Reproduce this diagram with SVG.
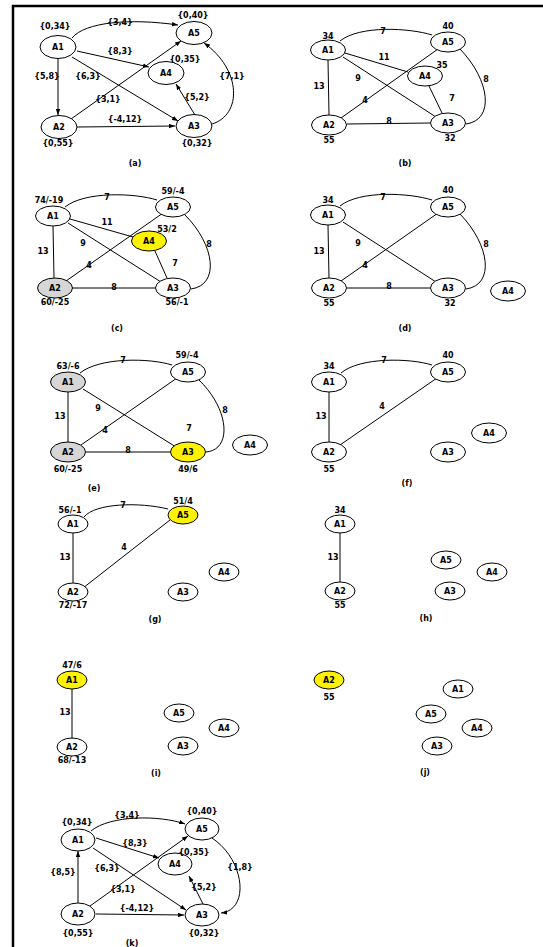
<svg xmlns="http://www.w3.org/2000/svg" width="543" height="947" viewBox="0 0 543 947">
<style>
.n ellipse{fill:#fff;stroke:#000;stroke-width:1}
.n.g ellipse{fill:#d6d6d6}
.n.y ellipse{fill:#fff200}
text{font-family:"DejaVu Sans","Liberation Sans",sans-serif;font-weight:bold;font-size:8px;text-anchor:middle;fill:#000}
.e path{fill:none;stroke:#000;stroke-width:1}
.e .a{marker-end:url(#arr)}
</style>
<defs>
<marker id="arr" viewBox="0 0 8 6" refX="8" refY="3" markerWidth="6" markerHeight="5" orient="auto" markerUnits="userSpaceOnUse">
<path d="M0,0 L8,3 L0,6 Z" fill="#000"/>
</marker>
</defs>
<rect width="543" height="947" fill="#fff"/>
<g id="frame" stroke="#000" stroke-width="2.5" fill="none">
<path d="M13,947 L13,6 L543,6"/>
</g>

<!-- Panel (a) -->
<g id="connectors-a" class="e">
<path class="a" d="M72,38 C85,22 130,18 178,25"/>
<path class="a" d="M77,51 L149,67"/>
<path class="a" d="M58,59 L58,115"/>
<path class="a" d="M72,57 L178,121"/>
<path class="a" d="M71,119 L181,41"/>
<path class="a" d="M77,127 L175,126"/>
<path class="a" d="M195,115 L176,84"/>
<path class="a" d="M212,124 C242,115 242,70 204,43"/>
</g>
<g id="a-labels">
<text x="120" y="25">{3,4}</text>
<text x="120" y="54">{8,3}</text>
<text x="47" y="79">{5,8}</text>
<text x="88" y="79">{6,3}</text>
<text x="108" y="102">{3,1}</text>
<text x="197" y="100">{5,2}</text>
<text x="232" y="79">{7,1}</text>
<text x="125" y="122">{-4,12}</text>
<text x="135" y="166">(a)</text>
</g>
<g id="a-A1" class="n"><ellipse cx="58" cy="47" rx="18" ry="11.5"/><text x="58" y="50">A1</text><text x="55" y="29">{0,34}</text></g>
<g id="a-A5" class="n"><ellipse cx="194" cy="33" rx="18" ry="11.5"/><text x="194" y="36">A5</text><text x="193" y="18">{0,40}</text></g>
<g id="a-A4" class="n"><ellipse cx="166" cy="73" rx="18" ry="11.5"/><text x="166" y="76">A4</text><text x="185" y="62">{0,35}</text></g>
<g id="a-A2" class="n"><ellipse cx="59" cy="127" rx="18" ry="11.5"/><text x="59" y="130">A2</text><text x="58" y="146">{0,55}</text></g>
<g id="a-A3" class="n"><ellipse cx="194" cy="126" rx="18" ry="11.5"/><text x="194" y="129">A3</text><text x="197" y="146">{0,32}</text></g>

<!-- Panel (b) -->
<g id="connectors-b" class="e">
<path d="M340,41 C360,25 410,28 432,35"/>
<path d="M345,53 L408,72"/>
<path d="M328,60 L329,115"/>
<path d="M343,57 L436,117"/>
<path d="M341,118 L438,49"/>
<path d="M347,124 L430,123"/>
<path d="M429,86 L442,113"/>
<path d="M460,49 C490,80 495,120 466,124"/>
</g>
<g id="b-labels">
<text x="383" y="34">7</text>
<text x="384" y="60">11</text>
<text x="319" y="89">13</text>
<text x="358" y="81">9</text>
<text x="365" y="103">4</text>
<text x="389" y="124">8</text>
<text x="452" y="101">7</text>
<text x="486" y="82">8</text>
<text x="405" y="166">(b)</text>
</g>
<g id="b-A1" class="n"><ellipse cx="328" cy="50" rx="17.5" ry="10"/><text x="328" y="53">A1</text><text x="328" y="39">34</text></g>
<g id="b-A5" class="n"><ellipse cx="448" cy="42" rx="17.5" ry="10"/><text x="448" y="45">A5</text><text x="448" y="29">40</text></g>
<g id="b-A4" class="n"><ellipse cx="425" cy="76" rx="17.5" ry="10"/><text x="425" y="79">A4</text><text x="442" y="68">35</text></g>
<g id="b-A2" class="n"><ellipse cx="329" cy="125" rx="17.5" ry="10"/><text x="329" y="128">A2</text><text x="329" y="143">55</text></g>
<g id="b-A3" class="n"><ellipse cx="448" cy="123" rx="17.5" ry="10"/><text x="448" y="126">A3</text><text x="450" y="141">32</text></g>

<!-- Panel (c) -->
<g id="connectors-c" class="e">
<path d="M65,207 C85,191 135,193 157,200"/>
<path d="M70,219 L133,237"/>
<path d="M53,226 L54,278"/>
<path d="M68,223 L161,282"/>
<path d="M66,281 L163,213"/>
<path d="M72,288 L155,288"/>
<path d="M155,251 L167,278"/>
<path d="M185,215 C215,245 220,285 191,289"/>
</g>
<g id="c-labels">
<text x="107" y="200">7</text>
<text x="107" y="225">11</text>
<text x="43" y="254">13</text>
<text x="83" y="246">9</text>
<text x="89" y="268">4</text>
<text x="114" y="290">8</text>
<text x="175" y="266">7</text>
<text x="209" y="247">8</text>
<text x="117" y="331">(c)</text>
</g>
<g id="c-A1" class="n"><ellipse cx="53" cy="216" rx="17.5" ry="10"/><text x="53" y="219">A1</text><text x="49" y="203">74/-19</text></g>
<g id="c-A5" class="n"><ellipse cx="173" cy="207" rx="17.5" ry="10"/><text x="173" y="210">A5</text><text x="173" y="194">59/-4</text></g>
<g id="c-A4" class="n y"><ellipse cx="149" cy="241" rx="17.5" ry="10"/><text x="149" y="244">A4</text><text x="167" y="232">53/2</text></g>
<g id="c-A2" class="n g"><ellipse cx="55" cy="288" rx="17.5" ry="10"/><text x="55" y="291">A2</text><text x="55" y="305">60/-25</text></g>
<g id="c-A3" class="n"><ellipse cx="173" cy="288" rx="17.5" ry="10"/><text x="173" y="291">A3</text><text x="177" y="305">56/-1</text></g>

<!-- Panel (d) -->
<g id="connectors-d" class="e">
<path d="M340,206 C360,190 410,193 432,200"/>
<path d="M328,225 L329,278"/>
<path d="M343,222 L436,282"/>
<path d="M341,281 L438,213"/>
<path d="M347,288 L430,288"/>
<path d="M460,214 C490,245 495,285 466,289"/>
</g>
<g id="d-labels">
<text x="383" y="200">7</text>
<text x="319" y="254">13</text>
<text x="358" y="246">9</text>
<text x="365" y="268">4</text>
<text x="389" y="289">8</text>
<text x="486" y="247">8</text>
<text x="405" y="331">(d)</text>
</g>
<g id="d-A1" class="n"><ellipse cx="328" cy="215" rx="17.5" ry="10"/><text x="328" y="218">A1</text><text x="328" y="203">34</text></g>
<g id="d-A5" class="n"><ellipse cx="448" cy="207" rx="17.5" ry="10"/><text x="448" y="210">A5</text><text x="448" y="193">40</text></g>
<g id="d-A2" class="n"><ellipse cx="329" cy="288" rx="17.5" ry="10"/><text x="329" y="291">A2</text><text x="329" y="306">55</text></g>
<g id="d-A3" class="n"><ellipse cx="448" cy="288" rx="17.5" ry="10"/><text x="448" y="291">A3</text><text x="450" y="306">32</text></g>
<g id="d-A4" class="n"><ellipse cx="508" cy="291" rx="17.5" ry="10"/><text x="508" y="294">A4</text></g>

<!-- Panel (e) -->
<g id="connectors-e" class="e">
<path d="M80,373 C100,357 150,358 172,365"/>
<path d="M68,392 L68,442"/>
<path d="M83,389 L176,447"/>
<path d="M81,445 L177,378"/>
<path d="M86,452 L170,452"/>
<path d="M199,380 C230,410 232,450 206,452"/>
</g>
<g id="e-labels">
<text x="123" y="363">7</text>
<text x="60" y="419">13</text>
<text x="98" y="411">9</text>
<text x="105" y="433">4</text>
<text x="128" y="453">8</text>
<text x="189" y="431">7</text>
<text x="225" y="413">8</text>
<text x="94" y="491">(e)</text>
</g>
<g id="e-A1" class="n g"><ellipse cx="68" cy="382" rx="17.5" ry="10"/><text x="68" y="385">A1</text><text x="68" y="369">63/-6</text></g>
<g id="e-A5" class="n"><ellipse cx="188" cy="372" rx="17.5" ry="10"/><text x="188" y="375">A5</text><text x="187" y="358">59/-4</text></g>
<g id="e-A2" class="n g"><ellipse cx="68" cy="452" rx="17.5" ry="10"/><text x="68" y="455">A2</text><text x="68" y="472">60/-25</text></g>
<g id="e-A3" class="n y"><ellipse cx="188" cy="452" rx="17.5" ry="10"/><text x="188" y="455">A3</text><text x="188" y="472">49/6</text></g>
<g id="e-A4" class="n"><ellipse cx="250" cy="445" rx="17.5" ry="10"/><text x="250" y="448">A4</text></g>

<!-- Panel (f) -->
<g id="connectors-f" class="e">
<path d="M341,373 C360,357 410,358 432,365"/>
<path d="M329,392 L329,442"/>
<path d="M340,445 L437,378"/>
</g>
<g id="f-labels">
<text x="384" y="363">7</text>
<text x="321" y="419">13</text>
<text x="382" y="409">4</text>
<text x="407" y="486">(f)</text>
</g>
<g id="f-A1" class="n"><ellipse cx="329" cy="382" rx="17.5" ry="10"/><text x="329" y="385">A1</text><text x="329" y="369">34</text></g>
<g id="f-A5" class="n"><ellipse cx="448" cy="372" rx="17.5" ry="10"/><text x="448" y="375">A5</text><text x="448" y="358">40</text></g>
<g id="f-A2" class="n"><ellipse cx="329" cy="452" rx="17.5" ry="10"/><text x="329" y="455">A2</text><text x="329" y="472">55</text></g>
<g id="f-A3" class="n"><ellipse cx="448" cy="452" rx="17.5" ry="10"/><text x="448" y="455">A3</text></g>
<g id="f-A4" class="n"><ellipse cx="489" cy="433" rx="17.5" ry="10"/><text x="489" y="436">A4</text></g>

<!-- Panel (g) -->
<g id="connectors-g" class="e">
<path d="M84,517 C95,503 140,502 168,509"/>
<path d="M73,533 L73,583"/>
<path d="M83,588 L170,520"/>
</g>
<g id="g-labels">
<text x="123" y="508">7</text>
<text x="65" y="560">13</text>
<text x="124" y="550">4</text>
<text x="155" y="622">(g)</text>
</g>
<g id="g-A1" class="n"><ellipse cx="73" cy="524" rx="15" ry="9"/><text x="73" y="527">A1</text><text x="70" y="513">56/-1</text></g>
<g id="g-A5" class="n y"><ellipse cx="183" cy="515" rx="15" ry="9"/><text x="183" y="518">A5</text><text x="183" y="504">51/4</text></g>
<g id="g-A2" class="n"><ellipse cx="73" cy="592" rx="15" ry="9"/><text x="73" y="595">A2</text><text x="73" y="608">72/-17</text></g>
<g id="g-A3" class="n"><ellipse cx="183" cy="592" rx="15" ry="9"/><text x="183" y="595">A3</text></g>
<g id="g-A4" class="n"><ellipse cx="224" cy="572" rx="15" ry="9"/><text x="224" y="575">A4</text></g>

<!-- Panel (h) -->
<g id="connectors-h" class="e">
<path d="M340,533 L340,582"/>
</g>
<g id="h-labels">
<text x="333" y="560">13</text>
<text x="426" y="621">(h)</text>
</g>
<g id="h-A1" class="n"><ellipse cx="340" cy="524" rx="15" ry="9"/><text x="340" y="527">A1</text><text x="340" y="513">34</text></g>
<g id="h-A2" class="n"><ellipse cx="340" cy="591" rx="15" ry="9"/><text x="340" y="594">A2</text><text x="340" y="608">55</text></g>
<g id="h-A5" class="n"><ellipse cx="446" cy="560" rx="15" ry="9"/><text x="446" y="563">A5</text></g>
<g id="h-A4" class="n"><ellipse cx="492" cy="572" rx="15" ry="9"/><text x="492" y="575">A4</text></g>
<g id="h-A3" class="n"><ellipse cx="450" cy="591" rx="15" ry="9"/><text x="450" y="594">A3</text></g>

<!-- Panel (i) -->
<g id="connectors-i" class="e">
<path d="M72,689 L72,738"/>
</g>
<g id="i-labels">
<text x="65" y="715">13</text>
<text x="156" y="776">(i)</text>
</g>
<g id="i-A1" class="n y"><ellipse cx="72" cy="680" rx="15" ry="9"/><text x="72" y="683">A1</text><text x="72" y="668">47/6</text></g>
<g id="i-A2" class="n"><ellipse cx="72" cy="747" rx="15" ry="9"/><text x="72" y="750">A2</text><text x="72" y="763">68/-13</text></g>
<g id="i-A5" class="n"><ellipse cx="179" cy="713" rx="15" ry="9"/><text x="179" y="716">A5</text></g>
<g id="i-A4" class="n"><ellipse cx="224" cy="728" rx="15" ry="9"/><text x="224" y="731">A4</text></g>
<g id="i-A3" class="n"><ellipse cx="183" cy="746" rx="15" ry="9"/><text x="183" y="749">A3</text></g>

<!-- Panel (j) -->
<g id="j-labels">
<text x="425" y="775">(j)</text>
</g>
<g id="j-A2" class="n y"><ellipse cx="329" cy="680" rx="15" ry="9"/><text x="329" y="683">A2</text><text x="329" y="700">55</text></g>
<g id="j-A1" class="n"><ellipse cx="458" cy="689" rx="15" ry="9"/><text x="458" y="692">A1</text></g>
<g id="j-A5" class="n"><ellipse cx="431" cy="714" rx="15" ry="9"/><text x="431" y="717">A5</text></g>
<g id="j-A4" class="n"><ellipse cx="477" cy="728" rx="15" ry="9"/><text x="477" y="731">A4</text></g>
<g id="j-A3" class="n"><ellipse cx="437" cy="746" rx="15" ry="9"/><text x="437" y="749">A3</text></g>

<!-- Panel (k) -->
<g id="connectors-k" class="e">
<path class="a" d="M91,831 C110,815 160,815 185,824"/>
<path class="a" d="M96,838 L159,858"/>
<path class="a" d="M78,903 L78,851"/>
<path class="a" d="M93,848 L186,910"/>
<path class="a" d="M90,906 L188,836"/>
<path class="a" d="M96,914 L184,915"/>
<path class="a" d="M203,904 L189,876"/>
<path class="a" d="M212,838 C245,860 250,910 221,913"/>
</g>
<g id="k-labels">
<text x="127" y="818">{3,4}</text>
<text x="135" y="846">{8,3}</text>
<text x="107" y="871">{6,3}</text>
<text x="63" y="875">{8,5}</text>
<text x="123" y="892">{3,1}</text>
<text x="204" y="890">{5,2}</text>
<text x="240" y="870">{1,8}</text>
<text x="137" y="911">{-4,12}</text>
<text x="132" y="946">(k)</text>
</g>
<g id="k-A1" class="n"><ellipse cx="78" cy="840" rx="17" ry="11"/><text x="78" y="843">A1</text><text x="77" y="825">{0,34}</text></g>
<g id="k-A5" class="n"><ellipse cx="202" cy="829" rx="17" ry="11"/><text x="202" y="832">A5</text><text x="202" y="814">{0,40}</text></g>
<g id="k-A4" class="n"><ellipse cx="175" cy="864" rx="17" ry="11"/><text x="175" y="867">A4</text><text x="194" y="855">{0,35}</text></g>
<g id="k-A2" class="n"><ellipse cx="78" cy="914" rx="17" ry="11"/><text x="78" y="917">A2</text><text x="78" y="936">{0,55}</text></g>
<g id="k-A3" class="n"><ellipse cx="202" cy="915" rx="17" ry="11"/><text x="202" y="918">A3</text><text x="204" y="936">{0,32}</text></g>
</svg>
